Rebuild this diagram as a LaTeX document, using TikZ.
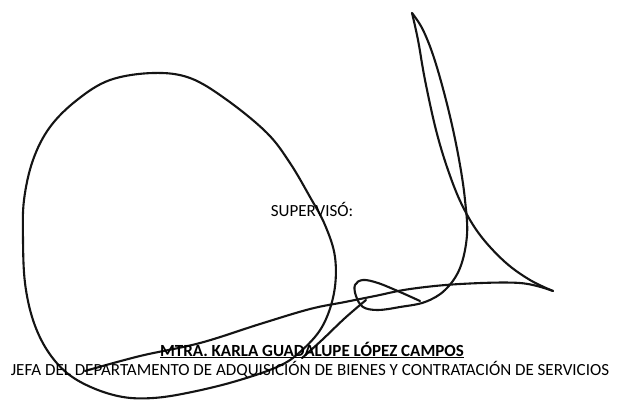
\documentclass[tikz,border=0pt]{standalone}
\usepackage{fontspec}
\setmainfont{Carlito}
\begin{document}
\begin{tikzpicture}[x=1pt,y=-1pt,
  sig/.style={line width=2.1pt, line cap=round, line join=round, color=black!92},
  lbl/.style={font=\fontsize{17}{20}\selectfont, inner sep=0pt, anchor=base, text=black}]
\useasboundingbox[fill=white] (0,0) rectangle (620,405);
% big loop
\draw[sig] plot[smooth cycle, tension=0.6] coordinates {(310,197) (325,225) (335,257) (334,293) (322,327) (300,352) (277,367) (233,382) (187,393) (153,398) (123,397) (93,388) (67,373) (47,350) (33,320) (25,283) (23,240) (24,200) (33,160) (50,127) (77,100) (110,80) (153,73) (190,78) (227,100) (267,133) (290,163)};
% main long stroke
\draw[sig] plot[smooth, tension=0.6] coordinates {(85,371) (140,356) (200,343) (260,324) (310,309) (345,302) (375,296) (410,289) (460,284) (520,283) (553,291)};
% tail up to the peak
\draw[sig] plot[smooth, tension=0.6] coordinates {(553,291) (530,280) (505,262) (480,235) (462,205) (448,170) (436,130) (425,80) (418,40) (412,13)};
% down from the peak, D loop and knot
\draw[sig] plot[smooth, tension=0.6] coordinates {(412,13) (422,28) (432,52) (442,85) (452,125) (460,165) (465,200) (467,235) (460,268) (445,290) (425,302) (400,307) (378,310) (363,307) (356,296) (355,285) (363,280) (378,283) (400,292) (420,301)};
% second stroke going down-left from the knot
\draw[sig] plot[smooth, tension=0.6] coordinates {(366,300) (345,318) (322,340) (302,358)};
% texts
\node[lbl] (sup) at (312,216) {SUPERVISÓ:};
\node[lbl, font=\fontsize{17}{20}\selectfont\bfseries] (name) at (312,356) {\underline{MTRA. KARLA GUADALUPE LÓPEZ CAMPOS}};
\node[lbl] (job) at (310,375) {JEFA DEL DEPARTAMENTO DE ADQUISICIÓN DE BIENES Y CONTRATACIÓN DE SERVICIOS};
\end{tikzpicture}
\end{document}
